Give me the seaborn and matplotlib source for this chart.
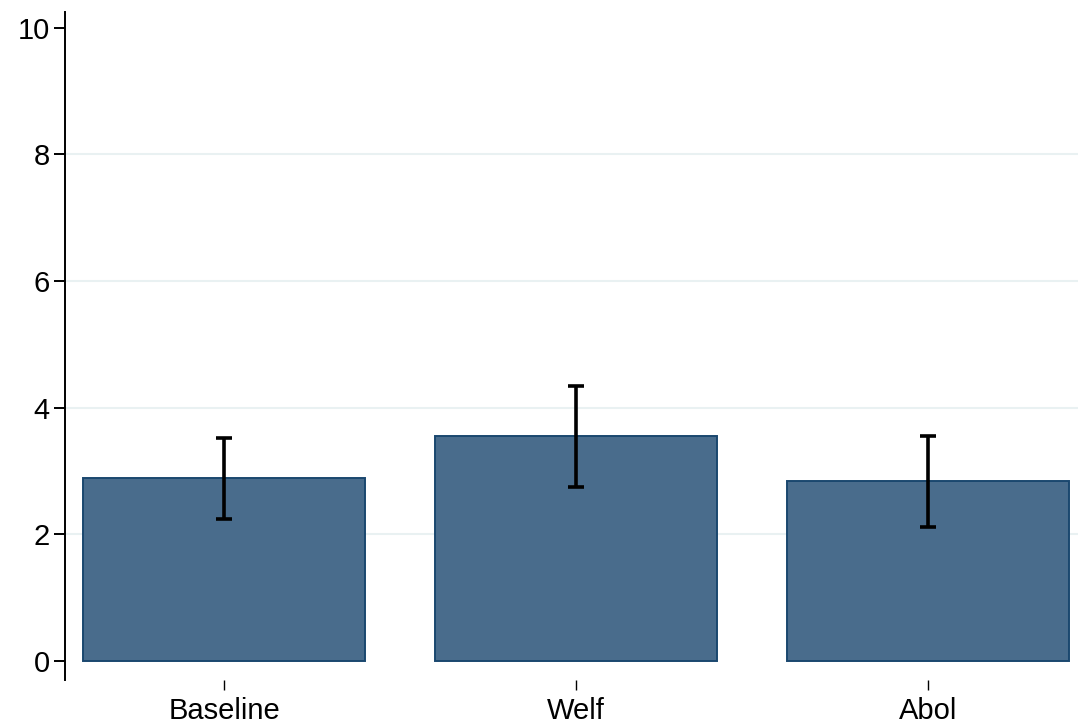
import numpy as np
import pandas as pd
import matplotlib
matplotlib.use("Agg")
import matplotlib.pyplot as plt
import seaborn as sns

# ---------- Data ----------
groups = ["Baseline", "Welf", "Abol"]
means = [2.89, 3.55, 2.84]
ci_low = [2.24, 2.75, 2.12]
ci_high = [3.52, 4.34, 3.55]
y_ticks = [0, 2, 4, 6, 8, 10]

df = pd.DataFrame({"group": groups, "mean": means, "lo": ci_low, "hi": ci_high})

# ---------- Style ----------
sns.set_theme(style="white")
plt.rcParams["font.family"] = ["Liberation Sans", "DejaVu Sans"]

W, H = 1078, 726
fig = plt.figure(figsize=(W / 100, H / 100), dpi=100)
ax = fig.add_axes([65 / W, (H - 680) / H, (1078 - 65) / W, (680 - 12) / H])

bar_fill = "#496c8c"
bar_edge = "#1a476f"

sns.barplot(data=df, x="group", y="mean", order=groups, color=bar_fill,
            errorbar=None, width=0.8, edgecolor=bar_edge, linewidth=1.4,
            saturation=1, ax=ax, zorder=2)

pos = np.arange(len(groups))
ax.errorbar(pos, df["mean"], yerr=[df["mean"] - df["lo"], df["hi"] - df["mean"]],
            fmt="none", ecolor="black", elinewidth=2.6, capsize=6, capthick=2.6,
            zorder=3)

# ---------- Axes ----------
ax.set_xlim(-0.452, 2.426)
ax.set_ylim(-0.3, 10.25)
ax.set_yticks(y_ticks)
ax.set_yticklabels([str(t) for t in y_ticks])
# grid only on the inner ticks (Stata style)
ax.grid(False)
ax.hlines(y_ticks[1:-1], *ax.get_xlim(), colors="#e9f1f2", linewidth=1.5, zorder=0)
ax.set_xlim(-0.452, 2.426)
ax.set_xlabel("")
ax.set_ylabel("")

for side in ["top", "right", "bottom"]:
    ax.spines[side].set_visible(False)
ax.spines["left"].set_color("black")
ax.spines["left"].set_linewidth(1.4)

ax.tick_params(axis="y", which="major", left=True, length=8, width=1.4,
               color="black", labelsize=21, pad=3, labelcolor="black")
ax.tick_params(axis="x", which="major", bottom=True, length=7, width=1.0,
               color="black", labelsize=21, pad=5, labelcolor="black")

fig.savefig("out.png", dpi=100, facecolor="white")
